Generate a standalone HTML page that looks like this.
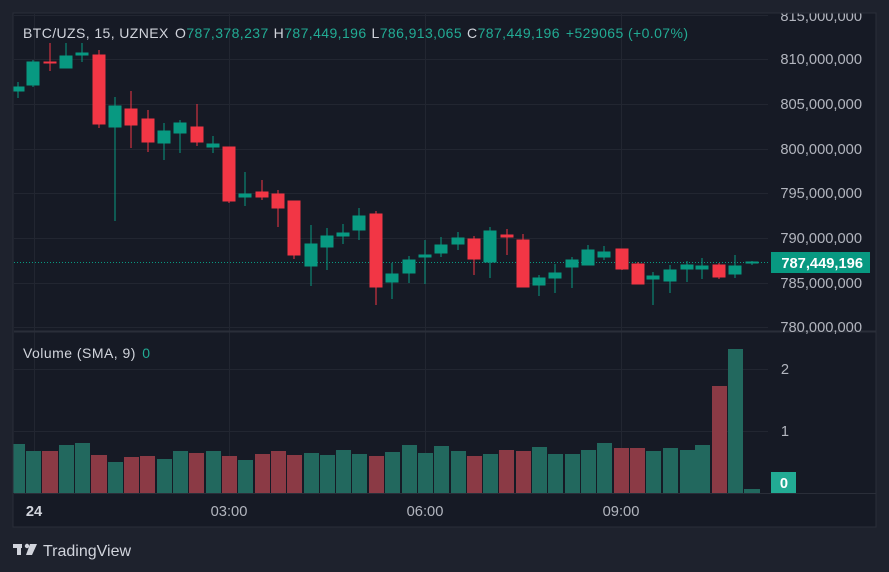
<!DOCTYPE html>
<html><head><meta charset="utf-8"><style>
html,body{margin:0;padding:0;background:#1e222d;width:889px;height:572px;overflow:hidden}
svg{display:block}
text{font-family:"Liberation Sans",sans-serif}
</style></head><body>
<svg width="889" height="572" viewBox="0 0 889 572" xmlns="http://www.w3.org/2000/svg">
<rect x="0" y="0" width="889" height="572" fill="#1e222d"/>
<rect x="13" y="13" width="863" height="514" fill="#161a25" stroke="#2a2e39" stroke-width="1"/>
<clipPath id="pc"><rect x="13.5" y="13.5" width="862" height="513"/></clipPath>
<g clip-path="url(#pc)">
<g stroke="#222631" stroke-width="1">
<line x1="14" y1="15.5" x2="768" y2="15.5"/><line x1="14" y1="59.5" x2="768" y2="59.5"/><line x1="14" y1="104.5" x2="768" y2="104.5"/><line x1="14" y1="149.5" x2="768" y2="149.5"/><line x1="14" y1="193.5" x2="768" y2="193.5"/><line x1="14" y1="238.5" x2="768" y2="238.5"/><line x1="14" y1="283.5" x2="768" y2="283.5"/><line x1="14" y1="327.5" x2="768" y2="327.5"/>
<line x1="14" y1="369.5" x2="768" y2="369.5"/><line x1="14" y1="431.5" x2="768" y2="431.5"/>
<line x1="34.5" y1="14" x2="34.5" y2="493"/><line x1="229.5" y1="14" x2="229.5" y2="493"/><line x1="425.5" y1="14" x2="425.5" y2="493"/><line x1="621.5" y1="14" x2="621.5" y2="493"/>
</g>
<line x1="14" y1="331.5" x2="876" y2="331.5" stroke="#2a2e39" stroke-width="2"/>
<line x1="14" y1="493.5" x2="876" y2="493.5" stroke="#2a2e39" stroke-width="1"/>
<line x1="14" y1="262.5" x2="770" y2="262.5" stroke="#089981" stroke-width="1" stroke-dasharray="1,2"/>
<g stroke-width="1">
<g fill="#089981" stroke="#089981">
<line x1="18" y1="82" x2="18" y2="98"/><rect x="12" y="87" width="12" height="4"/>
<line x1="33" y1="60" x2="33" y2="87"/><rect x="27" y="62" width="12" height="23"/>
<line x1="66" y1="43" x2="66" y2="68"/><rect x="60" y="56" width="12" height="12"/>
<line x1="82" y1="43" x2="82" y2="62"/><rect x="76" y="53" width="12" height="2"/>
<line x1="115" y1="97" x2="115" y2="221"/><rect x="109" y="106" width="12" height="21"/>
<line x1="164" y1="123" x2="164" y2="160"/><rect x="158" y="131" width="12" height="12"/>
<line x1="180" y1="120" x2="180" y2="153"/><rect x="174" y="123" width="12" height="10"/>
<line x1="213" y1="136" x2="213" y2="153"/><rect x="207" y="144" width="12" height="3"/>
<line x1="245" y1="172" x2="245" y2="206"/><rect x="239" y="194" width="12" height="3"/>
<line x1="311" y1="225" x2="311" y2="286"/><rect x="305" y="244" width="12" height="22"/>
<line x1="327" y1="228" x2="327" y2="270"/><rect x="321" y="236" width="12" height="11"/>
<line x1="343" y1="224" x2="343" y2="244"/><rect x="337" y="233" width="12" height="3"/>
<line x1="359" y1="208" x2="359" y2="240"/><rect x="353" y="216" width="12" height="14"/>
<line x1="392" y1="263" x2="392" y2="299"/><rect x="386" y="274" width="12" height="8"/>
<line x1="409" y1="256" x2="409" y2="283"/><rect x="403" y="260" width="12" height="13"/>
<line x1="425" y1="240" x2="425" y2="284"/><rect x="419" y="255" width="12" height="2"/>
<line x1="441" y1="237" x2="441" y2="257"/><rect x="435" y="245" width="12" height="8"/>
<line x1="458" y1="232" x2="458" y2="250"/><rect x="452" y="238" width="12" height="6"/>
<line x1="490" y1="227" x2="490" y2="278"/><rect x="484" y="231" width="12" height="31"/>
<line x1="539" y1="275" x2="539" y2="296"/><rect x="533" y="278" width="12" height="7"/>
<line x1="555" y1="264" x2="555" y2="293"/><rect x="549" y="273" width="12" height="5"/>
<line x1="572" y1="257" x2="572" y2="288"/><rect x="566" y="260" width="12" height="7"/>
<line x1="588" y1="245" x2="588" y2="265"/><rect x="582" y="250" width="12" height="15"/>
<line x1="604" y1="246" x2="604" y2="260"/><rect x="598" y="252" width="12" height="5"/>
<line x1="653" y1="272" x2="653" y2="305"/><rect x="647" y="276" width="12" height="3"/>
<line x1="670" y1="265" x2="670" y2="293"/><rect x="664" y="270" width="12" height="11"/>
<line x1="687" y1="261" x2="687" y2="282"/><rect x="681" y="265" width="12" height="4"/>
<line x1="702" y1="258" x2="702" y2="279"/><rect x="696" y="266" width="12" height="3"/>
<line x1="735" y1="255" x2="735" y2="278"/><rect x="729" y="266" width="12" height="8"/>
<line x1="752" y1="261" x2="752" y2="265"/><rect x="746" y="262" width="12" height="1"/>
</g>
<g fill="#f23645" stroke="#f23645">
<line x1="50" y1="43" x2="50" y2="71"/><rect x="44" y="62" width="12" height="1"/>
<line x1="99" y1="50" x2="99" y2="128"/><rect x="93" y="55" width="12" height="69"/>
<line x1="131" y1="91" x2="131" y2="148"/><rect x="125" y="109" width="12" height="16"/>
<line x1="148" y1="110" x2="148" y2="152"/><rect x="142" y="119" width="12" height="23"/>
<line x1="197" y1="104" x2="197" y2="146"/><rect x="191" y="127" width="12" height="15"/>
<line x1="229" y1="147" x2="229" y2="203"/><rect x="223" y="147" width="12" height="54"/>
<line x1="262" y1="180" x2="262" y2="200"/><rect x="256" y="192" width="12" height="5"/>
<line x1="278" y1="190" x2="278" y2="227"/><rect x="272" y="194" width="12" height="14"/>
<line x1="294" y1="201" x2="294" y2="259"/><rect x="288" y="201" width="12" height="54"/>
<line x1="376" y1="211" x2="376" y2="305"/><rect x="370" y="214" width="12" height="73"/>
<line x1="474" y1="236" x2="474" y2="275"/><rect x="468" y="239" width="12" height="20"/>
<line x1="507" y1="229" x2="507" y2="255"/><rect x="501" y="235" width="12" height="2"/>
<line x1="523" y1="234" x2="523" y2="287"/><rect x="517" y="240" width="12" height="47"/>
<line x1="622" y1="249" x2="622" y2="270"/><rect x="616" y="249" width="12" height="20"/>
<line x1="638" y1="262" x2="638" y2="284"/><rect x="632" y="264" width="12" height="20"/>
<line x1="719" y1="263" x2="719" y2="279"/><rect x="713" y="265" width="12" height="12"/>
</g>
</g>
<g fill="#22685e">
<rect x="13" y="444" width="12" height="49"/><rect x="26" y="451" width="15" height="42"/>
<rect x="59" y="445" width="15" height="48"/><rect x="75" y="443" width="15" height="50"/>
<rect x="108" y="462" width="15" height="31"/><rect x="157" y="459" width="15" height="34"/>
<rect x="173" y="451" width="15" height="42"/><rect x="206" y="451" width="15" height="42"/>
<rect x="238" y="460" width="15" height="33"/><rect x="304" y="453" width="15" height="40"/>
<rect x="320" y="455" width="15" height="38"/><rect x="336" y="450" width="15" height="43"/>
<rect x="352" y="454" width="15" height="39"/><rect x="385" y="452" width="15" height="41"/>
<rect x="402" y="445" width="15" height="48"/><rect x="418" y="453" width="15" height="40"/>
<rect x="434" y="446" width="15" height="47"/><rect x="451" y="451" width="15" height="42"/>
<rect x="483" y="454" width="15" height="39"/><rect x="532" y="447" width="15" height="46"/>
<rect x="548" y="454" width="15" height="39"/><rect x="565" y="454" width="15" height="39"/>
<rect x="581" y="450" width="15" height="43"/><rect x="597" y="443" width="15" height="50"/>
<rect x="646" y="451" width="15" height="42"/><rect x="663" y="448" width="15" height="45"/>
<rect x="680" y="450" width="15" height="43"/><rect x="695" y="445" width="15" height="48"/>
<rect x="728" y="349" width="15" height="144"/><rect x="744" y="489" width="16" height="4"/>
</g>
<g fill="#8b3a45">
<rect x="42" y="451" width="16" height="42"/><rect x="91" y="455" width="16" height="38"/>
<rect x="124" y="457" width="15" height="36"/><rect x="140" y="456" width="15" height="37"/>
<rect x="189" y="453" width="15" height="40"/><rect x="222" y="456" width="15" height="37"/>
<rect x="255" y="454" width="15" height="39"/><rect x="271" y="451" width="15" height="42"/>
<rect x="287" y="455" width="15" height="38"/><rect x="369" y="456" width="15" height="37"/>
<rect x="467" y="456" width="15" height="37"/><rect x="499" y="450" width="15" height="43"/>
<rect x="516" y="451" width="15" height="42"/><rect x="614" y="448" width="15" height="45"/>
<rect x="630" y="448" width="15" height="45"/><rect x="712" y="386" width="15" height="107"/>
</g>
<g fill="#b2b5be" font-size="14.7" text-anchor="end">
<text x="862" y="21">815,000,000</text>
<text x="862" y="64">810,000,000</text>
<text x="862" y="109">805,000,000</text>
<text x="862" y="154">800,000,000</text>
<text x="862" y="198">795,000,000</text>
<text x="862" y="243">790,000,000</text>
<text x="862" y="288">785,000,000</text>
<text x="862" y="332">780,000,000</text>
<text x="789" y="374">2</text>
<text x="789" y="436">1</text>
</g>
<rect x="771" y="252" width="99" height="21" fill="#089981"/>
<text x="863" y="268" fill="#ffffff" font-size="14.7" font-weight="bold" text-anchor="end">787,449,196</text>
<rect x="771" y="472" width="25" height="21" fill="#22ab94"/>
<text x="784" y="488" fill="#ffffff" font-size="14.7" font-weight="bold" text-anchor="middle">0</text>
<text x="23" y="38" font-size="14" fill="#d1d4dc" textLength="665" lengthAdjust="spacing">BTC/UZS, 15, UZNEX <tspan dx="2">O</tspan><tspan fill="#22ab94">787,378,237</tspan><tspan dx="5">H</tspan><tspan fill="#22ab94">787,449,196</tspan><tspan dx="5">L</tspan><tspan fill="#22ab94">786,913,065</tspan><tspan dx="5">C</tspan><tspan fill="#22ab94">787,449,196</tspan><tspan dx="6" fill="#22ab94">+529065 (+0.07%)</tspan></text>
<text x="23" y="358" font-size="14" fill="#d1d4dc" textLength="127" lengthAdjust="spacing">Volume (SMA, 9) <tspan dx="2" fill="#22ab94">0</tspan></text>
<g fill="#b2b5be" font-size="14.7" text-anchor="middle">
<text x="34" y="516" font-weight="bold" fill="#d1d4dc">24</text>
<text x="229" y="516">03:00</text>
<text x="425" y="516">06:00</text>
<text x="621" y="516">09:00</text>
</g>
</g>
<g fill="#d1d4dc">
<rect x="13" y="544" width="9" height="4"/><rect x="17" y="544" width="4" height="11"/>
<circle cx="27" cy="546" r="2.2"/><polygon points="30,544 37,544 32,555 26,555"/>
</g>
<text x="43" y="556" font-size="16" fill="#d1d4dc">TradingView</text>
</svg>
</body></html>
